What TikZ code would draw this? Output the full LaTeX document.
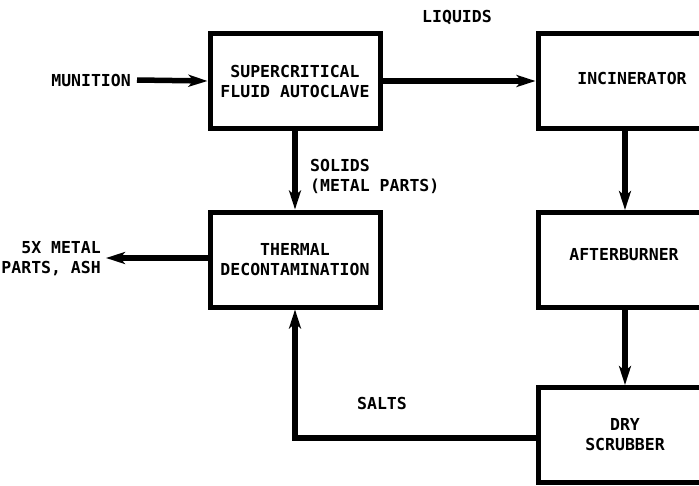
\documentclass[tikz,border=0pt]{standalone}
\usepackage{fontspec}
\setmainfont{DejaVu Sans Mono}
\usetikzlibrary{arrows.meta}
\begin{document}
\begin{tikzpicture}[x=1pt,y=-1pt,
  lbl/.style={font=\bfseries\fontsize{16.5}{20}\selectfont, inner sep=0pt},
  unit/.style={draw, line width=5pt, minimum width=170pt, minimum height=95pt, align=center, font=\bfseries\fontsize{16.5}{20}\selectfont},
  wideunit/.style={unit, minimum width=174pt},
  flow/.style={line width=5.5pt, -{Stealth[length=19pt,width=12pt,inset=5pt]}}]
\useasboundingbox (0,0) rectangle (699,485);
\clip (0,0) rectangle (699,485);
\node[unit] (auto) at (295,81) {SUPERCRITICAL\\FLUID AUTOCLAVE};
\node[wideunit] (incin) at (625,81) {};
\node[lbl] at (632,78) {INCINERATOR};
\node[unit] (thermal) at (295,259.5) {THERMAL\\DECONTAMINATION};
\node[wideunit] (after) at (625,260) {};
\node[lbl] at (624,255) {AFTERBURNER};
\node[wideunit] (dry) at (625,435) {DRY\\SCRUBBER};
\node[lbl, anchor=east] (mun) at (131,80) {MUNITION};
\node[lbl] (liq) at (457,18) {LIQUIDS};
\node[lbl, anchor=west, align=left] (sol) at (310,176) {SOLIDS\\(METAL PARTS)};
\node[lbl] (salts) at (382,403) {SALTS};
\node[lbl, anchor=east, align=right] (out) at (101,259) {5X METAL\\PARTS, ASH};
\coordinate (outend) at (106,258);
\coordinate (corner) at (295,438);
\draw[flow] (mun.east) ++(6pt,0) -- (auto.west);
\draw[flow] (auto.east) -- (incin.west);
\draw[flow] (auto.south) -- (thermal.north);
\draw[flow] (incin.south) -- (after.north);
\draw[flow] (after.south) -- (dry.north);
\draw[flow] (thermal.west |- outend) -- (outend);
\draw[flow] (dry.west |- corner) -- (corner) -- (thermal.south);
\end{tikzpicture}
\end{document}
